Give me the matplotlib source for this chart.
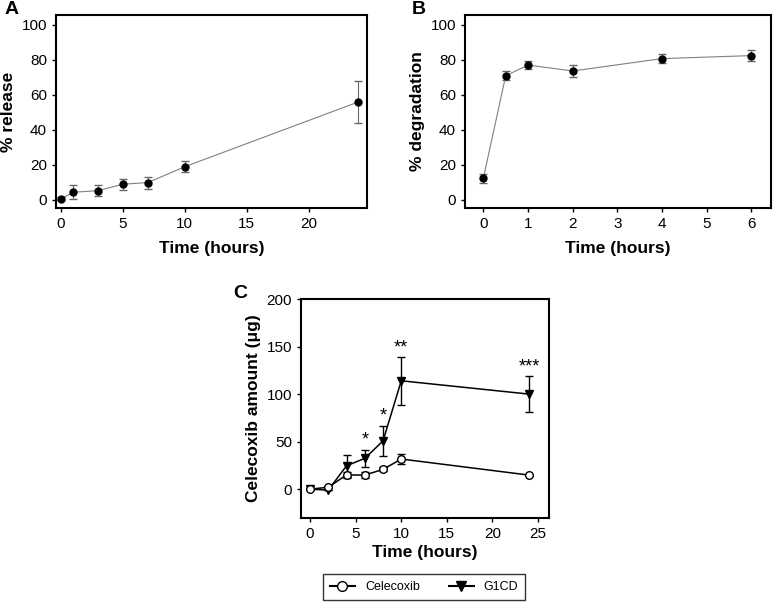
import matplotlib.pyplot as plt
from matplotlib.lines import Line2D

plt.rcParams['font.family'] = ['Liberation Sans', 'DejaVu Sans']

# panel A: release
time_a = [0, 1, 3, 5, 7, 10, 24]
release = [0.6, 4.4, 5.3, 9.0, 9.9, 19.0, 56.0]
release_err = [0.8, 4.1, 3.1, 3.1, 3.4, 3.0, 12.0]

# panel B: degradation
time_b = [0, 0.5, 1, 2, 4, 6]
degradation = [12.4, 71.0, 77.1, 73.7, 80.8, 82.5]
degradation_err = [2.5, 2.5, 2.5, 3.5, 2.5, 3.0]

# panel C: celecoxib amount
time_c = [0, 2, 4, 6, 8, 10, 24]
celecoxib = [0, 2, 15, 14.8, 20.8, 31.7, 14.8]
celecoxib_err = [0, 0, 3, 3, 2, 5.5, 0]
g1cd = [0, -1, 24.6, 32.4, 50.7, 114, 100]
g1cd_err = [0, 0, 11.5, 9, 16, 25, 19]
stars = {6: '*', 8: '*', 10: '**', 24: '***'}

fig = plt.figure(figsize=(7.77, 6.03), dpi=100)

tick_fs = 11
label_fs = 12.5


def style(ax):
    for s in ax.spines.values():
        s.set_linewidth(1.5)
    ax.tick_params(labelsize=tick_fs, width=1.0, length=3)


axA = fig.add_axes([0.0721, 0.6551, 0.4002, 0.32])
axA.errorbar(time_a, release, yerr=release_err, color='#808080', lw=0.8,
             ecolor='#666666', elinewidth=0.8, capsize=3, marker='o',
             mfc='black', mec='black', ms=5)
axA.set_xlim(-0.4, 24.7)
axA.set_ylim(-4.6, 105.7)
axA.set_xticks([0, 5, 10, 15, 20])
axA.set_yticks([0, 20, 40, 60, 80, 100])
axA.set_xlabel('Time (hours)', fontsize=label_fs, fontweight='bold', labelpad=7)
axA.set_ylabel('% release', fontsize=label_fs, fontweight='bold')
style(axA)
fig.text(0.006, 0.999, 'A', fontsize=14, fontweight='bold', va='top')

axB = fig.add_axes([0.5985, 0.6551, 0.3934, 0.32])
axB.errorbar(time_b, degradation, yerr=degradation_err, color='#808080', lw=0.8,
             ecolor='#666666', elinewidth=0.8, capsize=3, marker='o',
             mfc='black', mec='black', ms=5)
axB.set_xlim(-0.41, 6.43)
axB.set_ylim(-4.6, 105.7)
axB.set_xticks([0, 1, 2, 3, 4, 5, 6])
axB.set_yticks([0, 20, 40, 60, 80, 100])
axB.set_xlabel('Time (hours)', fontsize=label_fs, fontweight='bold', labelpad=7)
axB.set_ylabel('% degradation', fontsize=label_fs, fontweight='bold')
style(axB)
fig.text(0.530, 0.999, 'B', fontsize=14, fontweight='bold', va='top')

axC = fig.add_axes([0.3874, 0.1415, 0.3192, 0.3626])
axC.errorbar(time_c, celecoxib, yerr=celecoxib_err, color='black', lw=1.1,
             elinewidth=1.0, capsize=3, marker='o', mfc='white', mec='black',
             ms=5.5, zorder=3)
axC.errorbar(time_c, g1cd, yerr=g1cd_err, color='black', lw=1.1,
             elinewidth=1.0, capsize=3, marker='v', mfc='black', mec='black',
             ms=6, zorder=2)
for t, s in stars.items():
    i = time_c.index(t)
    axC.text(t, g1cd[i] + g1cd_err[i] + 1, s, ha='center', va='bottom',
             fontsize=13)
axC.set_xlim(-0.99, 26.2)
axC.set_ylim(-30, 200)
axC.set_xticks([0, 5, 10, 15, 20, 25])
axC.set_yticks([0, 50, 100, 150, 200])
axC.set_xlabel('Time (hours)', fontsize=label_fs, fontweight='bold', labelpad=3)
axC.set_ylabel('Celecoxib amount (\u03bcg)', fontsize=label_fs, fontweight='bold')
style(axC)
fig.text(0.300, 0.528, 'C', fontsize=14, fontweight='bold', va='top')

handles = [Line2D([], [], color='black', marker='o', mfc='white', mec='black', ms=7),
           Line2D([], [], color='black', marker='v', mfc='black', mec='black', ms=7)]
leg = fig.legend(handles, ['Celecoxib', 'G1CD'], loc='center',
                 bbox_to_anchor=(0.5457, 0.0265), ncol=2, fontsize=9,
                 frameon=True, fancybox=False, edgecolor='black',
                 handlelength=2.0, columnspacing=2.3, borderpad=0.55,
                 borderaxespad=0)
leg.get_frame().set_linewidth(1.0)

fig.savefig('out.png', dpi=100)
